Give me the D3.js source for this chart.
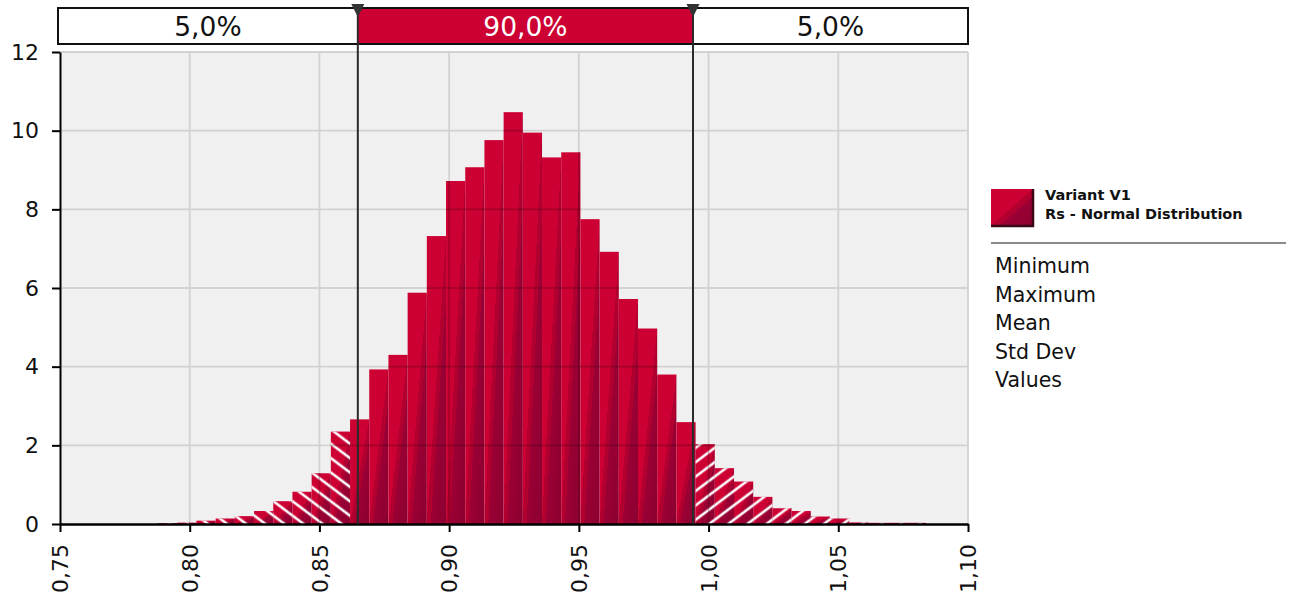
<!DOCTYPE html>
<html lang="en">
<head>
<meta charset="UTF-8">
<title>Rs - Normal Distribution</title>
<script src="https://d3js.org/d3.v7.min.js"></script>
<style>
  body { margin: 0; background: #fff; }
  svg { display: block; font-family: "DejaVu Sans", Verdana, sans-serif; }
  .axis text { font-family: "DejaVu Sans", Verdana, sans-serif; font-size: 22px; fill: #111; }
  .axis path, .axis line { stroke: #000; }
</style>
</head>
<body>
<svg id="chart" width="1289" height="604"></svg>
<script>
// histogram bins (left edge of each bin) and their heights
const binStarts = [0.7878, 0.7952, 0.8026, 0.8100, 0.8174, 0.8248, 0.8322, 0.8396, 0.8470, 0.8544,
                   0.8618, 0.8692, 0.8766, 0.8840, 0.8914, 0.8988, 0.9062, 0.9136, 0.9210, 0.9284,
                   0.9358, 0.9432, 0.9506, 0.9580, 0.9654, 0.9728, 0.9802, 0.9876, 0.9950, 1.0024,
                   1.0098, 1.0172, 1.0246, 1.0320, 1.0394, 1.0468, 1.0542, 1.0616, 1.0690, 1.0764];
const binWidth = 0.0074;
const density = [0.02, 0.035, 0.085, 0.14, 0.20, 0.33, 0.58, 0.82, 1.29, 2.35,
                 2.66, 3.93, 4.30, 5.88, 7.32, 8.72, 9.07, 9.76, 10.47, 9.95,
                 9.32, 9.45, 7.75, 6.92, 5.72, 4.97, 3.80, 2.59, 2.03, 1.42,
                 1.08, 0.69, 0.40, 0.33, 0.19, 0.14, 0.04, 0.03, 0.03, 0.03];

// 5% / 95% cut points and the band labels above the plot
const percentiles = [0.8648, 0.9940];
const bandLabels = ["5,0%", "90,0%", "5,0%"];

const xTicks = [0.75, 0.80, 0.85, 0.90, 0.95, 1.00, 1.05, 1.10];
const yTicks = [0, 2, 4, 6, 8, 10, 12];

const legendTitle = ["Variant V1", "Rs - Normal Distribution"];
const statLabels = ["Minimum", "Maximum", "Mean", "Std Dev", "Values"];

const red = "#cc0033";
const svg = d3.select("#chart");

const x = d3.scaleLinear().domain([0.75, 1.10]).range([60, 968]);
const y = d3.scaleLinear().domain([0, 12]).range([524, 52]);

const bins = binStarts.map((s, i) => ({ x0: s, x1: s + binWidth, v: density[i] }));

// defs: bar gradient, hatch patterns, clip for grid over bars
const defs = svg.append("defs");
const grad = defs.append("linearGradient").attr("id", "barGrad")
    .attr("x1", 0).attr("y1", 0).attr("x2", 1).attr("y2", 1);
[[0, red], [0.5, red], [0.5, "#b1002f"], [0.6, "#b1002f"], [0.6, "#9b0034"], [1, "#8c0031"]]
    .forEach(([o, c]) => grad.append("stop").attr("offset", o).attr("stop-color", c));

function hatch(id, angle) {
    const p = defs.append("pattern").attr("id", id)
        .attr("patternUnits", "userSpaceOnUse")
        .attr("width", 10).attr("height", 11.5)
        .attr("patternTransform", `rotate(${angle})`);
    p.append("line").attr("x1", 0).attr("x2", 10).attr("y1", 5.75).attr("y2", 5.75)
        .attr("stroke", "#fff").attr("stroke-width", 2.6);
}
hatch("hatchL", 37);
hatch("hatchR", -37);

defs.append("clipPath").attr("id", "barClip")
    .selectAll("rect").data(bins).join("rect")
    .attr("x", d => x(d.x0)).attr("width", d => x(d.x1) - x(d.x0))
    .attr("y", d => y(d.v)).attr("height", d => y(0) - y(d.v));

// plot background
svg.append("rect").attr("x", 60).attr("y", 52).attr("width", 908).attr("height", 472)
    .attr("fill", "#f0f0f0");

function grid(g, color, width) {
    g.selectAll(".gx").data(xTicks.slice(1)).join("line")
        .attr("x1", d => x(d)).attr("x2", d => x(d)).attr("y1", y(12)).attr("y2", y(0))
        .attr("stroke", color).attr("stroke-width", width);
    g.selectAll(".gy").data(yTicks.slice(1)).join("line")
        .attr("x1", x(0.75)).attr("x2", x(1.10)).attr("y1", d => y(d)).attr("y2", d => y(d))
        .attr("stroke", color).attr("stroke-width", width);
}
grid(svg.append("g"), "#d2d2d2", 1.8);

// bars
const bars = svg.append("g");
bars.selectAll("rect").data(bins).join("rect")
    .attr("x", d => x(d.x0)).attr("width", d => x(d.x1) - x(d.x0))
    .attr("y", d => y(d.v)).attr("height", d => y(0) - y(d.v))
    .attr("fill", "url(#barGrad)");

// hatching on the tails outside the 90% interval
bars.selectAll(".tail").data(bins.filter(d => d.x1 <= percentiles[0] || d.x0 >= percentiles[1]))
    .join("rect").attr("class", "tail")
    .attr("x", d => x(d.x0)).attr("width", d => x(d.x1) - x(d.x0))
    .attr("y", d => y(d.v)).attr("height", d => y(0) - y(d.v))
    .attr("fill", d => d.x1 <= percentiles[0] ? "url(#hatchL)" : "url(#hatchR)");

// grid showing faintly through the bars
grid(svg.append("g").attr("clip-path", "url(#barClip)"), "rgba(60,0,20,0.28)", 1.6);

// axes
const fmt = d => d3.format(".2f")(d).replace(".", ",");
svg.append("g").attr("class", "axis")
    .attr("transform", `translate(0,${y(0)})`)
    .call(d3.axisBottom(x).tickValues(xTicks).tickFormat(fmt).tickSize(8).tickSizeOuter(0))
    .attr("font-family", null).attr("font-size", null)
    .call(g => g.select(".domain").attr("stroke-width", 2.5))
    .call(g => g.selectAll(".tick line").attr("stroke-width", 2))
    .call(g => g.selectAll("text")
        .attr("transform", "rotate(-90)")
        .attr("x", -20).attr("y", 0).attr("dy", "0.35em")
        .attr("text-anchor", "end"));

svg.append("g").attr("class", "axis")
    .attr("transform", `translate(${x(0.75)},0)`)
    .call(d3.axisLeft(y).tickValues(yTicks).tickSize(8).tickPadding(13).tickSizeOuter(0))
    .attr("font-family", null).attr("font-size", null)
    .call(g => g.select(".domain").attr("stroke-width", 2))
    .call(g => g.selectAll(".tick line").attr("stroke-width", 2));

// percentile band on top
const edges = [x(0.75) - 2, x(percentiles[0]), x(percentiles[1]), x(1.10)];
const band = svg.append("g");
band.selectAll("rect").data(bandLabels).join("rect")
    .attr("x", (d, i) => edges[i]).attr("width", (d, i) => edges[i + 1] - edges[i])
    .attr("y", 8).attr("height", 36)
    .attr("fill", (d, i) => i === 1 ? red : "#fff");
band.append("rect").attr("x", edges[0]).attr("y", 8)
    .attr("width", edges[3] - edges[0]).attr("height", 36)
    .attr("fill", "none").attr("stroke", "#111").attr("stroke-width", 2);
band.selectAll("text").data(bandLabels).join("text")
    .attr("x", (d, i) => (edges[i] + edges[i + 1]) / 2).attr("y", 35.5)
    .attr("text-anchor", "middle").attr("font-size", 26.5)
    .attr("fill", (d, i) => i === 1 ? "#fff" : "#111")
    .text(d => d);

// percentile markers
svg.append("g").selectAll("line").data(percentiles).join("line")
    .attr("x1", d => x(d)).attr("x2", d => x(d)).attr("y1", 8).attr("y2", y(0))
    .attr("stroke", "#2a2a2a").attr("stroke-width", 2);
svg.append("g").selectAll("path").data(percentiles).join("path")
    .attr("d", d => `M${x(d) - 6.5},4 L${x(d) + 6.5},4 L${x(d)},17 Z`)
    .attr("fill", "#333");

// legend
const legend = svg.append("g");
legend.append("rect").attr("x", 991).attr("y", 189).attr("width", 42).attr("height", 37)
    .attr("fill", "url(#barGrad)");
legend.append("path").attr("d", "M991,226 L1033,226 L1033,189")
    .attr("fill", "none").attr("stroke", "#3a0814").attr("stroke-width", 2.5);
legend.selectAll(".lt").data(legendTitle).join("text")
    .attr("x", 1045).attr("y", (d, i) => 200 + i * 19)
    .attr("font-size", 14.5).attr("font-weight", "bold").attr("fill", "#111")
    .text(d => d);
legend.append("line").attr("x1", 991).attr("x2", 1286).attr("y1", 243).attr("y2", 243)
    .attr("stroke", "#8a8a8a").attr("stroke-width", 2);
legend.selectAll(".st").data(statLabels).join("text")
    .attr("x", 995).attr("y", (d, i) => 273 + i * 28.5)
    .attr("font-size", 20.5).attr("fill", "#111")
    .text(d => d);
</script>
</body>
</html>
